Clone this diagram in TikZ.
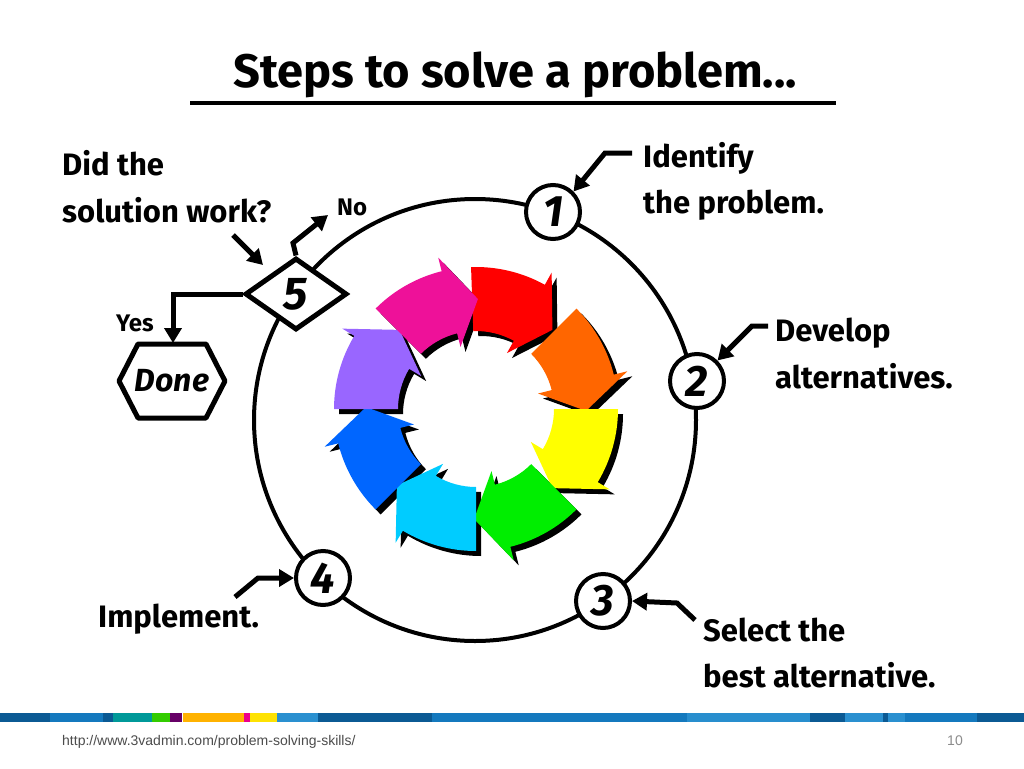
\documentclass[tikz,border=0pt]{standalone}
\usepackage{fontspec}
\setmainfont{Fira Sans}
\newfontfamily\urlfont{Liberation Sans}
\usetikzlibrary{shapes.geometric,arrows.meta,calc}
\definecolor{bdark}{HTML}{0B5A94}
\definecolor{bmid}{HTML}{1479BE}
\definecolor{blight}{HTML}{2A90D0}
\definecolor{cpurple}{HTML}{9966FF}
\definecolor{cblue}{HTML}{0066FF}
\definecolor{ccyan}{HTML}{00CCFF}
\definecolor{cgreen}{HTML}{00EE00}
\definecolor{cyellow}{HTML}{FFFF00}
\definecolor{corange}{HTML}{FF6600}
\definecolor{cmagenta}{HTML}{EE1199}
\newcommand{\colarrow}[3]{% color, start angle
  \begin{scope}[shift={(476,409)}]
  \fill[#1] (#2:78) arc[start angle=#2,end angle=#2+31,radius=78] -- (#2+31:64)
   -- (#2+46:110) -- (#2+31:156) -- (#2+31:142) arc[start angle=#2+31,end angle=#2,radius=142] -- cycle;
  \end{scope}}
\tikzset{
  lbl/.style={font=\fontsize{31}{34}\selectfont\bfseries, anchor=base west, inner sep=0},
  num/.style={circle, draw, line width=4pt, fill=white, minimum size=54pt, inner sep=0, font=\fontsize{44}{44}\selectfont\bfseries\itshape},
  ptr/.style={line width=5pt, -{Triangle[length=15pt,width=17pt]}},
}
\begin{document}
\begin{tikzpicture}[x=1pt,y=-1pt]
\useasboundingbox (0,0) rectangle (1024,768);
\fill[white] (0,0) rectangle (1024,768);
% title
\node[font=\fontsize{47}{50}\selectfont\bfseries, anchor=base] (title) at (515,87) {Steps to solve a problem...};
\draw[line width=4pt] (190,103) -- (836,103);
% big circle
\draw[line width=4pt] (475,420) circle[radius=221];
% colour arrows: shadows
\begin{scope}[shift={(5,5)}]
\foreach \a in {-92,-45,0,45,90,135,180,225} {\colarrow{black}{\a}{}}
\end{scope}
\colarrow{red}{-92}{}
\colarrow{corange}{-45}{}
\colarrow{cyellow}{0}{}
\colarrow{cgreen}{45}{}
\colarrow{ccyan}{90}{}
\colarrow{cblue}{135}{}
\colarrow{cpurple}{180}{}
\colarrow{cmagenta}{225}{}
% nodes
\node[num] (n1) at (553,212) {1};
\node[num] (n2) at (697,381) {2};
\node[num] (n3) at (603,601) {3};
\node[num] (n4) at (323,578) {4};
\node[diamond, draw, line width=5pt, fill=white, minimum width=102pt, minimum height=72pt, inner sep=0, font=\fontsize{46}{46}\selectfont\bfseries\itshape] (n5) at (296,294) {5};
\node[font=\fontsize{32}{32}\selectfont\bfseries\itshape] (done) at (172,381) {Done};
\draw[line width=5pt, line join=round] ($(done)+(-53,0)$) -- ++(19,-37) -- ++(68,0) -- ++(19,37) -- ++(-19,37) -- ++(-68,0) -- cycle;
% labels
\node[lbl] (t5a) at (62,175) {Did the};
\node[lbl] (t5b) at (62,222) {solution work?};
\node[lbl] (t1a) at (643,167) {Identify};
\node[lbl] (t1b) at (643,213) {the problem.};
\node[lbl] (t2a) at (775,341) {Develop};
\node[lbl] (t2b) at (775,388) {alternatives.};
\node[lbl] (t3a) at (703,641) {Select the};
\node[lbl] (t3b) at (703,687) {best alternative.};
\node[lbl] (t4) at (98,627) {Implement.};
\node[lbl, font=\fontsize{24}{24}\selectfont\bfseries] (no) at (337,215) {No};
\node[lbl, font=\fontsize{24}{24}\selectfont\bfseries] (yes) at (116,331) {Yes};
% pointers
\coordinate (p1) at (632,153); \coordinate (p1b) at (605,153);
\draw[ptr] (p1) -- (p1b) -- (n1.north east);
\coordinate (p2) at (768,326); \coordinate (p2b) at (752,326);
\draw[ptr] (p2) -- (p2b) -- (n2.north east);
\coordinate (p3) at (695,620); \coordinate (p3b) at (677,603);
\draw[ptr] (p3) -- (p3b) -- (n3.east);
\coordinate (p4) at (235,597); \coordinate (p4b) at (258,578);
\draw[ptr] (p4) -- (p4b) -- (n4.west);
\coordinate (p5) at (233,235);
\draw[ptr] (p5) -- (263,265);
\coordinate (pno) at (293,243); \coordinate (pnoe) at (328,215);
\draw[ptr] (n5.north) -- (pno) -- (pnoe);
\coordinate (pyes) at (173,294);
\coordinate (pyese) at (173,343);
\draw[ptr] (n5.west) -- (pyes) -- (pyese);
% footer bar
\foreach \x/\w/\c in {0/50/bdark,50/53/bmid,103/10/bdark,113/39/teal!80!cyan,152/18/green!60!olive,170/12/violet!80!black,183/61/orange!60!yellow,244/6/magenta,250/27/yellow!85!orange,277/41/blight,318/114/bdark,432/255/bmid,687/123/blight!90!bmid,810/35/bdark,845/38/blight,883/5/bdark,888/17/blight,905/72/bmid,977/47/bdark}
  \fill[\c] (\x,713) rectangle ++(\w,9);
\node[font=\urlfont\fontsize{14}{15}\selectfont, text=black!70, anchor=base west, inner sep=0] (url) at (62,745) {http://www.3vadmin.com/problem-solving-skills/};
\node[font=\urlfont\fontsize{14}{15}\selectfont, text=black!45, anchor=base, inner sep=0] (pg) at (955,745) {10};
\end{tikzpicture}
\end{document}
